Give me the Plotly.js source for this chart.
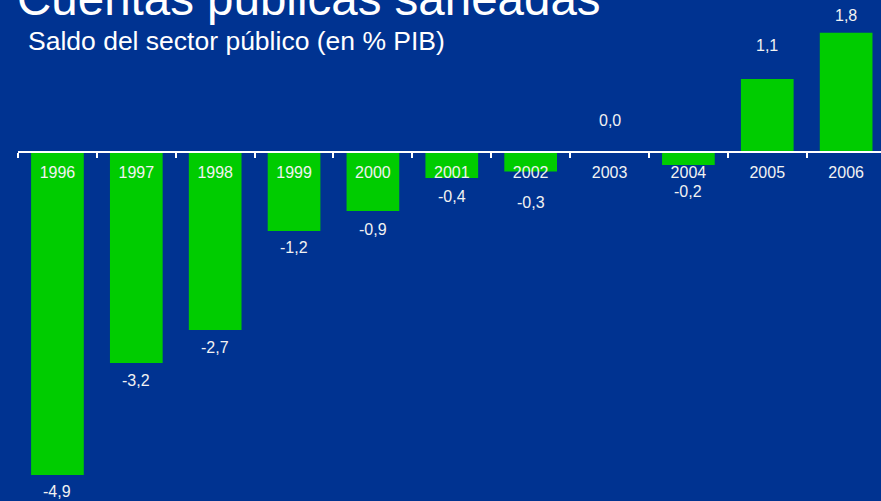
<!DOCTYPE html>
<html>
<head>
<meta charset="utf-8">
<script src="https://cdn.plot.ly/plotly-3.0.1.min.js"></script>
<style>
  html, body { margin: 0; padding: 0; background: #003391; }
  #chart { width: 881px; height: 501px; }
</style>
</head>
<body>
<div id="chart"></div>
<script>
// ---- data ----
const years = ['1996', '1997', '1998', '1999', '2000', '2001', '2002', '2003', '2004', '2005', '2006'];
const saldo = [-4.9, -3.2, -2.7, -1.2, -0.9, -0.4, -0.3, 0.0, -0.2, 1.1, 1.8];
const titleText = 'Cuentas públicas saneadas';
const subtitleText = 'Saldo del sector público (en % PIB)';

// ---- label placement (pixels from bar end; negative = below) ----
const labelShift = [-16, -18, -18, -17, -18, -18, -31, 31, -27, 34, 17];

const BG = '#003391';
const GREEN = '#00CC00';
const FONT = 'Liberation Sans, Arial, sans-serif';
const yMin = -5.292, yMax = 2.298;

const fmt = v => v.toFixed(1).replace('.', ',');

// category axis: annotations use the category's serial index
const annotations = years.map((y, i) => ({
  x: i, y: saldo[i], xref: 'x', yref: 'y',
  text: fmt(saldo[i]), showarrow: false,
  xanchor: 'center', yanchor: 'middle',
  yshift: labelShift[i],
  font: { family: FONT, size: 16, color: '#F2F2F2' }
}));

annotations.push({
  x: 0, y: 1, xref: 'paper', yref: 'paper',
  text: titleText, showarrow: false,
  xanchor: 'left', yanchor: 'middle', xshift: -3, yshift: 2,
  font: { family: FONT, size: 47.5, color: '#FFFFFF' }
});
annotations.push({
  x: 0, y: 1, xref: 'paper', yref: 'paper',
  text: subtitleText, showarrow: false,
  xanchor: 'left', yanchor: 'middle', xshift: 8, yshift: -41,
  font: { family: FONT, size: 26.5, color: '#FFFFFF' }
});

const trace = {
  type: 'bar',
  x: years,
  y: saldo,
  width: 0.668,
  marker: { color: GREEN, line: { width: 0 } },
  hoverinfo: 'skip'
};

const layout = {
  width: 881, height: 501,
  margin: { l: 18, r: 0, t: 0, b: 0, pad: 0 },
  paper_bgcolor: BG, plot_bgcolor: BG,
  showlegend: false,
  xaxis: {
    type: 'category',
    range: [-0.5, 10.442],
    tickson: 'boundaries',
    ticks: 'outside', ticklen: 5, tickwidth: 2, tickcolor: '#FFFFFF',
    showline: true, linecolor: '#FFFFFF', linewidth: 2,
    showgrid: false, zeroline: false,
    anchor: 'free', position: (0 - yMin) / (yMax - yMin),
    ticklabelstandoff: 6,
    tickfont: { family: FONT, size: 16, color: '#F2F2F2' },
    fixedrange: true
  },
  yaxis: {
    range: [yMin, yMax],
    visible: false, showgrid: false, zeroline: false,
    fixedrange: true
  },
  annotations: annotations
};

Plotly.newPlot('chart', [trace], layout, { displayModeBar: false, staticPlot: true });
</script>
</body>
</html>
